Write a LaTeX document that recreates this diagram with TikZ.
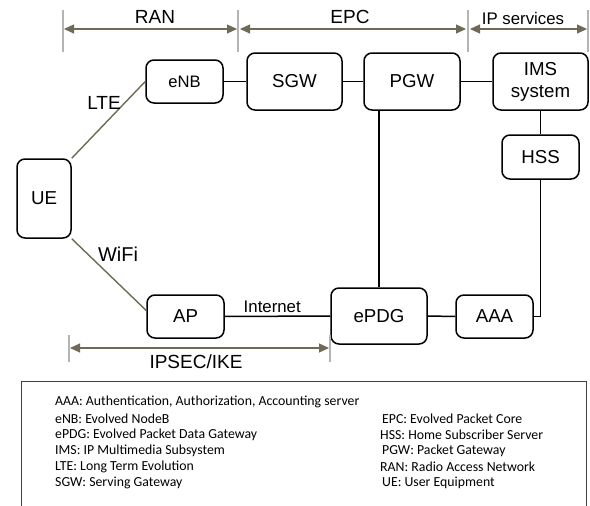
\documentclass[tikz,border=0pt]{standalone}
\usepackage{fontspec}
\setmainfont{Liberation Sans}
\newfontfamily\legendfont{Carlito}
\usetikzlibrary{arrows.meta}
\definecolor{olive}{HTML}{6E6A55}
\definecolor{tickgrey}{HTML}{B4B4B4}
\tikzset{
  box/.style={draw=black, line width=1.5pt, rounded corners=8pt, align=center,
    font=\fontsize{18.7}{20}\selectfont, inner sep=0pt},
  link/.style={draw=black, line width=1.5pt},
  radio/.style={draw=olive, line width=1.4pt},
  tick/.style={draw=tickgrey, line width=1.2pt},
  dim/.style={draw=olive, line width=1.2pt, {Triangle[length=10pt,width=9pt]}-{Triangle[length=10pt,width=9pt]}, fill=olive},
  lbl/.style={font=\fontsize{19}{20}\selectfont, inner sep=0pt},
  leg/.style={font=\legendfont\fontsize{13.8}{14}\selectfont, anchor=west, inner sep=0pt}
}
\begin{document}
\begin{tikzpicture}[x=1pt,y=-1pt]
\useasboundingbox (0,0) rectangle (590,506);
% dimension ticks
\foreach \n/\x in {t1/63,t2/238,t3/468,t4/588}{
  \coordinate (\n top) at (\x,10);
  \coordinate (\n bot) at (\x,52);
  \draw[tick] (\n top) -- (\n bot);
}
\coordinate (ranL) at (64,29); \coordinate (ranR) at (237,29);
\coordinate (epcL) at (240,29); \coordinate (epcR) at (466,29);
\coordinate (ipL) at (470,29); \coordinate (ipR) at (587,29);
\draw[dim] (ranL) -- (ranR);
\draw[dim] (epcL) -- (epcR);
\draw[dim] (ipL) -- (ipR);
\node[lbl] (ran) at (155,17) {RAN};
\node[lbl] (epc) at (350,17) {EPC};
\node[lbl, font=\fontsize{16.8}{18}\selectfont] (ips) at (523,18) {IP services};

% nodes
\node[box, minimum width=77pt, minimum height=43pt, font=\fontsize{16.6}{18}\selectfont] (enb) at (184.5,81.5) {eNB};
\node[box, minimum width=95pt, minimum height=57pt] (sgw) at (294.5,81.5) {SGW};
\node[box, minimum width=96pt, minimum height=57pt] (pgw) at (412,81.5) {PGW};
\node[box, minimum width=95pt, minimum height=57pt, font=\fontsize{18.7}{22}\selectfont] (ims) at (540.5,81.5) {IMS\\system};
\node[box, minimum width=77pt, minimum height=44pt] (hss) at (540.5,157) {HSS};
\node[box, minimum width=54pt, minimum height=79pt] (ue) at (44,198.5) {UE};
\node[box, minimum width=77pt, minimum height=43pt] (ap) at (185.5,316.5) {AP};
\node[box, minimum width=96pt, minimum height=56pt] (epdg) at (379,316) {ePDG};
\node[box, minimum width=77pt, minimum height=43pt] (aaa) at (494.5,316.5) {AAA};

% links
\draw[link] (enb.east) -- (sgw.west);
\draw[link] (sgw.east) -- (pgw.west);
\draw[link] (pgw.east) -- (ims.west);
\draw[link] (ims.south) -- (hss.north);
\draw[link] (hss.south) |- (aaa.east);
\draw[link] (epdg.north) -- (epdg.north |- pgw.south);
\draw[link] (ap.east) -- node[above, font=\fontsize{16.8}{18}\selectfont, inner sep=3pt, pos=0.45] (inet) {Internet} (epdg.west);
\draw[link] (epdg.east) -- (aaa.west);
\draw[radio] (ue.north east) -- (enb.west);
\draw[radio] (ue.south east) -- ([yshift=6pt]ap.west);
\node[lbl] (lte) at (104,103) {LTE};
\node[lbl, font=\fontsize{20}{21}\selectfont] (wifi) at (118,254) {WiFi};

% IPSEC/IKE
\coordinate (ipsTop1) at (69,335); \coordinate (ipsBot1) at (69,362);
\coordinate (ipsTop2) at (330,335); \coordinate (ipsBot2) at (330,362);
\draw[tick] (ipsTop1) -- (ipsBot1);
\draw[tick] (ipsTop2) -- (ipsBot2);
\coordinate (ipsL) at (70,348); \coordinate (ipsR) at (329,348);
\draw[dim] (ipsL) -- (ipsR);
\node[lbl] (ipsec) at (196,362) {IPSEC/IKE};

% legend
\coordinate (lg1) at (21,506); \coordinate (lg2) at (21,381);
\coordinate (lg3) at (586,381); \coordinate (lg4) at (586,506);
\draw[draw=black!75, line width=1pt] (lg1) -- (lg2) -- (lg3) -- (lg4);
\node[leg] (l1) at (55,402) {AAA: Authentication, Authorization, Accounting server};
\node[leg] (l2) at (55,419) {eNB: Evolved NodeB};
\node[leg] (l3) at (55,435) {ePDG: Evolved Packet Data Gateway};
\node[leg] (l4) at (55,451) {IMS: IP Multimedia Subsystem};
\node[leg] (l5) at (55,467) {LTE: Long Term Evolution};
\node[leg] (l6) at (55,483) {SGW: Serving Gateway};
\node[leg] (r1) at (382,419) {EPC: Evolved Packet Core};
\node[leg] (r2) at (380,435) {HSS: Home Subscriber Server};
\node[leg] (r3) at (382,451) {PGW: Packet Gateway};
\node[leg] (r4) at (380,467) {RAN: Radio Access Network};
\node[leg] (r5) at (382,483) {UE: User Equipment};
\end{tikzpicture}
\end{document}
